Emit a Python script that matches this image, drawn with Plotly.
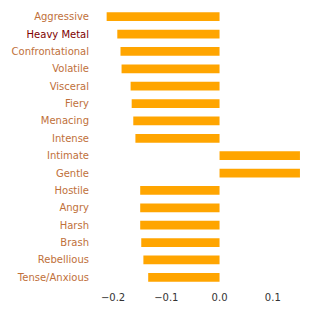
import plotly.graph_objects as go

categories = ["Aggressive", "Heavy Metal", "Confrontational", "Volatile", "Visceral",
              "Fiery", "Menacing", "Intense", "Intimate", "Gentle", "Hostile", "Angry",
              "Harsh", "Brash", "Rebellious", "Tense/Anxious"]
values = [-0.212, -0.192, -0.186, -0.184, -0.167, -0.165, -0.162, -0.158,
          0.151, 0.151, -0.149, -0.149, -0.149, -0.147, -0.143, -0.134]
highlight = "Heavy Metal"
x_ticks = [-0.2, -0.1, 0.0, 0.1]
x_tick_labels = ["\u22120.2", "\u22120.1", "0.0", "0.1"]

label_color = "#c0703a"
hl_color = "#800000"
ticktext = [f"<span style='color:{hl_color if c == highlight else label_color}'>{c}</span>" for c in categories]

fig = go.Figure(go.Bar(
    x=values, y=categories, orientation="h",
    marker=dict(color="#FFA500", line=dict(width=0)),
    width=0.5,
))
fig.update_layout(
    width=319, height=313,
    margin=dict(l=96, r=10, t=8, b=27),
    plot_bgcolor="white", paper_bgcolor="white",
    font=dict(family="DejaVu Sans", size=10, color="#333333"),
    showlegend=False,
)
fig.update_xaxes(range=[-0.232, 0.168], tickvals=x_ticks, ticktext=x_tick_labels,
                 showgrid=False, zeroline=False, showline=False, ticks="",
                 ticklabelstandoff=4, automargin=False)
fig.update_yaxes(categoryorder="array", categoryarray=categories, autorange="reversed",
                 tickvals=categories, ticktext=ticktext,
                 showgrid=False, zeroline=False, showline=False, ticks="",
                 ticklabelstandoff=6, automargin=False)
fig.write_html("out.html", config={"displayModeBar": False},
               post_script="document.body.style.margin='0';")
